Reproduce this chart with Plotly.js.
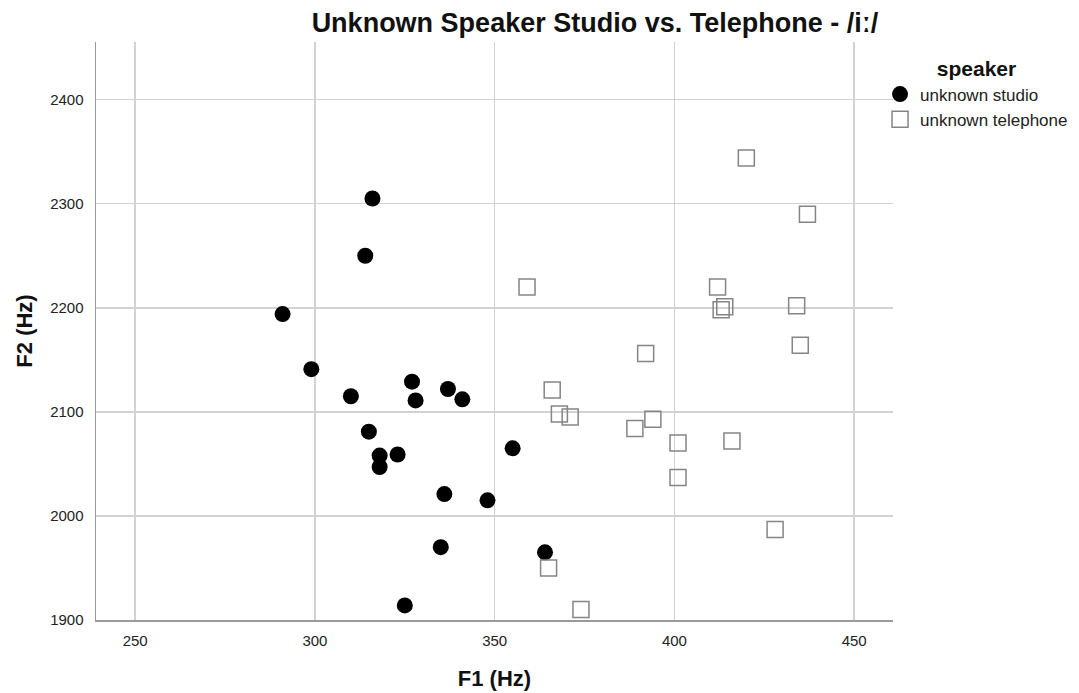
<!DOCTYPE html>
<html>
<head>
<meta charset="utf-8">
<script src="https://cdn.plot.ly/plotly-3.0.1.min.js"></script>
<style>html,body{margin:0;padding:0;background:#fff;}#chart{width:1079px;height:693px;}</style>
</head>
<body>
<div id="chart"></div>
<script>
// unknown studio
const studioF1 = [316, 314, 291, 299, 310, 327, 328, 337, 341, 315, 318, 323, 318, 355, 336, 348, 335, 364, 325];
const studioF2 = [2305, 2250, 2194, 2141, 2115, 2129, 2111, 2122, 2112, 2081, 2058, 2059, 2047, 2065, 2021, 2015, 1970, 1965, 1914];
// unknown telephone
const phoneF1 = [359, 412, 414, 413, 434, 435, 392, 366, 368, 371, 394, 389, 401, 416, 420, 437, 401, 428, 365, 374];
const phoneF2 = [2220, 2220, 2201, 2198, 2202, 2164, 2156, 2121, 2098, 2095, 2093, 2084, 2070, 2072, 2344, 2290, 2037, 1987, 1950, 1910];
const xTicks = [250, 300, 350, 400, 450];
const yTicks = [1900, 2000, 2100, 2200, 2300, 2400];
const seriesNames = ['unknown studio', 'unknown telephone'];

const font = 'Arial, "Liberation Sans", sans-serif';

const traces = [
  {
    type: 'scatter', mode: 'markers', name: seriesNames[0],
    x: studioF1, y: studioF2,
    marker: {symbol: 'circle', size: 16, color: '#000000', line: {color: '#000000', width: 0}}
  },
  {
    type: 'scatter', mode: 'markers', name: seriesNames[1],
    x: phoneF1, y: phoneF2,
    marker: {symbol: 'square-open', size: 16, color: '#858585', line: {color: '#858585', width: 1.5}}
  }
];

const layout = {
  width: 1079, height: 693,
  margin: {l: 96, r: 186, t: 42, b: 73, pad: 0, autoexpand: false},
  paper_bgcolor: '#ffffff', plot_bgcolor: '#ffffff',
  font: {family: font, color: '#222222', size: 15},
  title: {
    text: '<b>Unknown Speaker Studio vs. Telephone - /iː/</b>',
    font: {family: font, size: 27, color: '#111111'},
    x: 0.626, xref: 'paper', xanchor: 'center', y: 0.968, yref: 'container', yanchor: 'middle'
  },
  xaxis: {
    range: [239.1, 460.8], tickvals: xTicks, ticktext: xTicks.map(String),
    showgrid: true, gridcolor: '#d2d2d2', gridwidth: 1.5,
    showline: true, linecolor: '#9a9a9a', linewidth: 1.5, mirror: false,
    zeroline: false, ticks: '', ticklabelstandoff: 6,
    tickfont: {family: font, size: 15, color: '#222222'},
    title: {text: '<b>F1 (Hz)</b>', font: {family: font, size: 22, color: '#111111'}, standoff: 23}
  },
  yaxis: {
    range: [1900, 2455.4], tickvals: yTicks, ticktext: yTicks.map(String),
    showgrid: true, gridcolor: '#d2d2d2', gridwidth: 1.5,
    showline: true, linecolor: '#9a9a9a', linewidth: 1.5, mirror: false,
    zeroline: false, ticks: '', ticklabelstandoff: 8,
    tickfont: {family: font, size: 15, color: '#222222'},
    title: {text: '<b>F2 (Hz)</b>', font: {family: font, size: 22, color: '#111111'}, standoff: 11}
  },
  showlegend: true,
  legend: {
    x: 0.8156, xanchor: 'left', y: 0.929, yanchor: 'top', xref: 'container', yref: 'container',
    bgcolor: 'rgba(0,0,0,0)', borderwidth: 0,
    font: {family: font, size: 17, color: '#222222'},
    title: {text: '<b>speaker</b>', side: 'top center', font: {family: font, size: 21, color: '#111111'}},
    itemwidth: 30, tracegroupgap: 0
  }
};

Plotly.newPlot('chart', traces, layout, {displayModeBar: false, staticPlot: true});
</script>
</body>
</html>
